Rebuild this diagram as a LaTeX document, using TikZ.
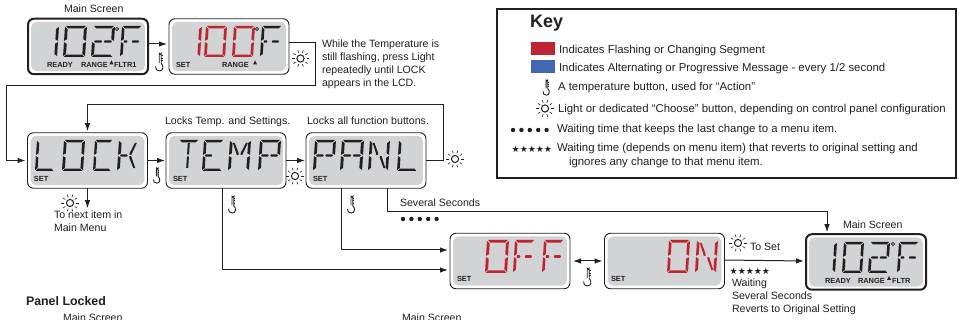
\documentclass[tikz,border=0pt]{standalone}
\usepackage{fontspec}
\setmainfont{Liberation Sans}
\newfontfamily\dejavu{DejaVu Sans}
\usetikzlibrary{arrows.meta}
\definecolor{lcdgray}{HTML}{D1D3D4}
\definecolor{ink}{HTML}{231F20}
\definecolor{flash}{HTML}{BE2431}
\definecolor{alt}{HTML}{4267B2}
% LCD segments, in unit coordinates of one character cell
\def\sA{\fill (.05,0)--(.95,0)--(.84,.08)--(.16,.08)--cycle;}
\def\sD{\fill (.14,.92)--(.86,.92)--(.97,1)--(.03,1)--cycle;}
\def\sF{\fill (0,.03)--(.13,.1)--(.13,.43)--(0,.48)--cycle;}
\def\sE{\fill (0,.52)--(.13,.57)--(.13,.9)--(0,.97)--cycle;}
\def\sB{\fill (1,.03)--(.87,.1)--(.87,.43)--(1,.48)--cycle;}
\def\sC{\fill (1,.52)--(.87,.57)--(.87,.9)--(1,.97)--cycle;}
\def\sG{\fill (.14,.46)--(.42,.46)--(.46,.5)--(.42,.54)--(.14,.54)--(.1,.5)--cycle;}
\def\sP{\fill (.54,.5)--(.58,.46)--(.86,.46)--(.9,.5)--(.86,.54)--(.58,.54)--cycle;}
\def\sS{\fill (.14,.46)--(.28,.46)--(.32,.5)--(.28,.54)--(.14,.54)--cycle;}
\def\sI{\fill (.45,.1)--(.55,.1)--(.55,.45)--(.5,.48)--(.45,.45)--cycle;}
\def\sK{\fill (.45,.9)--(.55,.9)--(.55,.55)--(.5,.52)--(.45,.55)--cycle;}
\def\sH{\fill (.14,.09)--(.23,.09)--(.45,.42)--(.45,.48)--(.37,.48)--cycle;}
\def\sJ{\fill (.86,.09)--(.77,.09)--(.55,.42)--(.55,.48)--(.63,.48)--cycle;}
\def\sL{\fill (.14,.91)--(.23,.91)--(.45,.58)--(.45,.52)--(.37,.52)--cycle;}
\def\sM{\fill (.86,.91)--(.77,.91)--(.55,.58)--(.55,.52)--(.63,.52)--cycle;}
\def\gOne{\sB\sC}
\def\gTwo{\sA\sB\sG\sP\sE\sD}
\def\gO{\sA\sB\sC\sD\sE\sF}
\def\gF{\sA\sF\sE\sS\sP}
\def\gL{\sF\sE\sD}
\def\gC{\sA\sF\sE\sD}
\def\gK{\sF\sE\sG\sJ\sM}
\def\gT{\sA\sI\sK}
\def\gEE{\sA\sF\sE\sD\sG}
\def\gMM{\sF\sE\sB\sC\sH\sJ}
\def\gPP{\sA\sF\sB\sE\sG\sP}
\def\gAA{\sA\sF\sB\sE\sC\sG\sP}
\def\gN{\sF\sE\sB\sC\sH\sM}
% \lcdchar{left}{top}{width}{height}{colour}{segments}
\newcommand\lcdchar[6]{\begin{scope}[shift={(#1+2,#2)},x={(#3pt,0pt)},y={(-2pt,-#4pt)},fill=#5]#6\end{scope}}
% \hookicon{x}{y}{scale}: the temperature button
\newcommand\hookicon[3]{\begin{scope}[shift={(#1,#2)},scale=#3]
 \draw[icon,line width=.9pt] (4.2,11) -- (4.2,1.2) arc[start angle=180,end angle=0,radius=1] -- (6.2,11.5)
   .. controls (8.8,13.5) and (8.6,19) .. (4.5,19) .. controls (1.5,19) and (.3,17) .. (.6,14.5);
 \draw[icon,line width=.6pt] (6.2,3.5) -- (7.6,3.5) (6.2,6) -- (7.6,6) (6.2,8.5) -- (7.6,8.5);
 \end{scope}}
% \sunicon{x}{y}{scale}: the Light or Choose button
\newcommand\sunicon[3]{\begin{scope}[shift={(#1,#2)},scale=#3]
 \draw[icon,line width=1pt] (0,0) circle[radius=3.6];
 \foreach \a in {0,36,...,324} \draw[icon,line width=.6pt] (\a:6) -- (\a:8.7);
 \end{scope}}
\newcommand\dotrow[2]{\foreach \k in {0,...,4} \fill[ink] (#1+8.4*\k,#2) circle[radius=2.2];}
\tikzset{
 x=1pt,y=-1pt,
 icon/.style={ink,line width=.8pt},
 conn/.style={draw=ink,line width=1pt,-{Latex[length=8pt,width=5.5pt]}},
 screenthin/.style={draw=ink,line width=.9pt,rounded corners=6pt,fill=white,inner sep=0pt,outer sep=0pt,minimum width=120pt,minimum height=55.5pt},
 screenthick/.style={screenthin,line width=2pt},
 lbl/.style={anchor=base west,inner sep=0pt,outer sep=0pt,text=ink,font=\fontsize{10.6}{12}\selectfont},
 keylbl/.style={lbl,font=\fontsize{11.4}{13}\selectfont},
 lcdtxt/.style={anchor=base west,inner sep=0pt,outer sep=0pt,text=ink,font=\fontsize{7.4}{9}\selectfont\bfseries},
}
\newcommand\lcdface[1]{\fill[lcdgray,rounded corners=5pt] ([shift={(3.2pt,-3.2pt)}]#1.north west) rectangle ([shift={(-3.2pt,3.2pt)}]#1.south east);}
\newcommand\lcdtri[2]{\fill[ink] (#1-2,#2+2) -- (#1,#2-2) -- (#1+2,#2+2) -- cycle;}
\begin{document}
\begin{tikzpicture}
\useasboundingbox (0,0) rectangle (959,320);
\begin{scope}
\clip (0,0) rectangle (959,320);
\fill[white] (0,0) rectangle (959,320);

% screens
\node[screenthick] (main1) at (88,46.5) {};
\node[screenthin] (flash) at (229,46.5) {};
\node[screenthin] (lock) at (87.5,160.5) {};
\node[screenthin] (temp) at (226,160.5) {};
\node[screenthin] (panl) at (366,160.5) {};
\node[screenthin] (off) at (510,261) {};
\node[screenthin] (on) at (664.5,261) {};
\node[screenthick] (main2) at (866,262) {};
\foreach \s in {main1,flash,lock,temp,panl,off,on,main2} {\lcdface{\s}}

% segments
\lcdchar{36}{26}{21}{31}{ink}{\gOne}
\lcdchar{63}{26}{22}{31}{ink}{\gO}
\lcdchar{91}{26}{22}{31}{ink}{\gTwo}
\lcdchar{120}{26}{20}{31}{ink}{\gF}
\fill[lcdgray,draw=ink,line width=.8pt] (117,29) circle[radius=1.6];
\lcdchar{179}{26}{21}{31}{flash}{\gOne}
\lcdchar{204}{26}{21}{31}{flash}{\gO}
\lcdchar{232}{26}{21}{31}{flash}{\gO}
\lcdchar{260}{26}{20}{31}{ink}{\gF}
\fill[lcdgray,draw=ink,line width=.8pt] (257,29) circle[radius=1.6];

\lcdchar{35}{140}{19}{31}{ink}{\gL}
\lcdchar{62}{140}{21}{31}{ink}{\gO}
\lcdchar{93}{140}{18}{31}{ink}{\gC}
\lcdchar{117}{140}{21}{31}{ink}{\gK}
\lcdchar{177}{140}{20}{31}{ink}{\gT}
\lcdchar{202}{140}{20}{31}{ink}{\gEE}
\lcdchar{228}{140}{21}{31}{ink}{\gMM}
\lcdchar{258}{140}{21}{31}{ink}{\gPP}
\lcdchar{313}{140}{21}{31}{ink}{\gPP}
\lcdchar{340}{140}{22}{31}{ink}{\gAA}
\lcdchar{368}{140}{20}{31}{ink}{\gN}
\lcdchar{397}{140}{20}{31}{ink}{\gL}

\lcdchar{485}{240}{22}{33}{flash}{\gO}
\lcdchar{513}{240}{20}{33}{flash}{\gF}
\lcdchar{542}{240}{20}{33}{flash}{\gF}
\lcdchar{667}{240}{21}{33}{flash}{\gO}
\lcdchar{695}{240}{21}{33}{flash}{\gN}

\lcdchar{815}{242}{20}{31}{ink}{\gOne}
\lcdchar{842}{242}{20}{31}{ink}{\gO}
\lcdchar{868}{242}{20}{31}{ink}{\gTwo}
\lcdchar{897}{242}{20}{31}{ink}{\gF}
\fill[lcdgray,draw=ink,line width=.8pt] (893,244) circle[radius=1.6];

% texts on the screens
\node[lcdtxt] (s1) at (47,68) {READY};
\node[lcdtxt] (s2) at (81,68) {RANGE};
\lcdtri{111.5}{62.5}
\node[lcdtxt] (s3) at (114,68) {FLTR1};
\node[lcdtxt] (s4) at (176,68) {SET};
\node[lcdtxt] (s5) at (222,68) {RANGE};
\lcdtri{255}{62.5}
\node[lcdtxt] (s6) at (34,181.5) {SET};
\node[lcdtxt] (s7) at (173,181.5) {SET};
\node[lcdtxt] (s8) at (313,181.5) {SET};
\node[lcdtxt] (s9) at (457,281.5) {SET};
\node[lcdtxt] (s10) at (611,281.5) {SET};
\node[lcdtxt] (s11) at (825,283.5) {READY};
\node[lcdtxt] (s12) at (858,283.5) {RANGE};
\lcdtri{889}{278}
\node[lcdtxt] (s13) at (892,283.5) {FLTR};

% connector bends
\coordinate (b1) at (315,86);
\coordinate (b2) at (6.5,160.5);
\coordinate (b3) at (443,105);
\coordinate (b4) at (827,212);
\coordinate (b5) at (387,212);
\coordinate (b6) at (222,270);
\coordinate (b7) at (341,250);

% connectors
\draw[conn] ([yshift=2.5pt]main1.east) -- ([shift={(-2pt,2.5pt)}]flash.west);
\draw[conn] ([yshift=3.5pt]flash.east) -| (b1) -- (b1 -| b2) -- (b2) -- ([xshift=-2pt]lock.west);
\draw[conn] (lock.east) -- ([xshift=-1pt]temp.west);
\draw[conn] (temp.east) -- ([xshift=-1pt]panl.west);
\draw[conn] (panl.east) -| (b3) -- (b3 -| lock.north) -- ([yshift=1.5pt]lock.north);
\draw[conn] (lock.south) -- ++(0,20);
\draw[conn] (b6 |- temp.south) -- (b6) -- ([xshift=-2pt]off.west |- b6);
\draw[conn] (b7 |- panl.south) -- (b7) -- ([xshift=-2pt]off.west |- b7);
\draw[conn] (b5 |- panl.south) -- (b5) -- (b4) -- ([yshift=2pt]b4 |- main2.north);
\draw[draw=ink,line width=1pt,{Latex[length=8pt,width=5.5pt]}-{Latex[length=8pt,width=5.5pt]}] ([xshift=3pt]off.east) -- ([xshift=-2pt]on.west);
\draw[conn] ([yshift=1pt]on.east) -- ([shift={(-2pt,1pt)}]main2.west);

% icons
\hookicon{155}{52}{1}
\hookicon{153}{167}{.85}
\hookicon{228}{195}{.95}
\hookicon{347}{195}{.95}
\hookicon{583}{267}{1}
\sunicon{300.5}{58.5}{1}
\sunicon{70}{203}{1}
\sunicon{295}{176}{1}
\sunicon{455}{159}{1}
\sunicon{738}{243}{1}

% free labels
\node[lbl] (t1) at (64,12.7) {Main Screen};
\node[lbl] (t2) at (322,47.5) {While the Temperature is};
\node[lbl] (t3) at (322,60.5) {still flashing, press Light};
\node[lbl] (t4) at (322,73.5) {repeatedly until LOCK};
\node[lbl] (t5) at (322,87) {appears in the LCD.};
\node[lbl] (t6) at (165,124.5) {Locks Temp. and Settings.};
\node[lbl] (t7) at (307,124.5) {Locks all function buttons.};
\node[lbl] (t8) at (54,219) {To next item in};
\node[lbl] (t9) at (54,232) {Main Menu};
\node[lbl] (t10) at (400,206.5) {Several Seconds};
\dotrow{403}{219}
\node[lbl] (t11) at (843,229) {Main Screen};
\node[lbl] (t12) at (750,250.5) {To Set};
\node[anchor=base west,inner sep=0pt,text=ink,font=\dejavu\fontsize{9}{10}\selectfont] (st1) at (729.5,275) {★★★★★};
\node[lbl] (t13) at (732,287) {Waiting};
\node[lbl] (t14) at (732,300) {Several Seconds};
\node[lbl] (t15) at (732,312.5) {Reverts to Original Setting};
\node[lbl,font=\fontsize{12.4}{14}\selectfont\bfseries] (t16) at (26,306) {Panel Locked};
\node[lbl] (t17) at (63,322) {Main Screen};
\node[lbl] (t18) at (402,322) {Main Screen};

% key
\node[draw=ink,line width=1.4pt,fill=white,inner sep=0pt,outer sep=0pt,minimum width=459pt,minimum height=169pt] (keybox) at (726.5,93.5) {};
\node[lbl,font=\fontsize{18}{20}\selectfont\bfseries] (k0) at (530,28) {Key};
\fill[flash] (531,42) rectangle (555,55);
\fill[alt] (531,60) rectangle (555,73);
\node[keylbl] (k1) at (559,53.5) {Indicates Flashing or Changing Segment};
\node[keylbl] (k2) at (559,71.5) {Indicates Alternating or Progressive Message - every 1/2 second};
\hookicon{542.5}{79}{.85}
\node[keylbl] (k3) at (558,91) {A temperature button, used for “Action”};
\sunicon{545}{108.5}{1}
\node[keylbl] (k4) at (558,113) {Light or dedicated “Choose” button, depending on control panel configuration};
\dotrow{513}{130}
\node[keylbl] (k5) at (557,133) {Waiting time that keeps the last change to a menu item.};
\node[anchor=base west,inner sep=0pt,text=ink,font=\dejavu\fontsize{9}{10}\selectfont] (st2) at (511.5,152.5) {★★★★★};
\node[keylbl] (k6) at (557,152) {Waiting time (depends on menu item) that reverts to original setting and};
\node[keylbl] (k7) at (569,166) {ignores any change to that menu item.};
\end{scope}
\end{tikzpicture}
\end{document}
